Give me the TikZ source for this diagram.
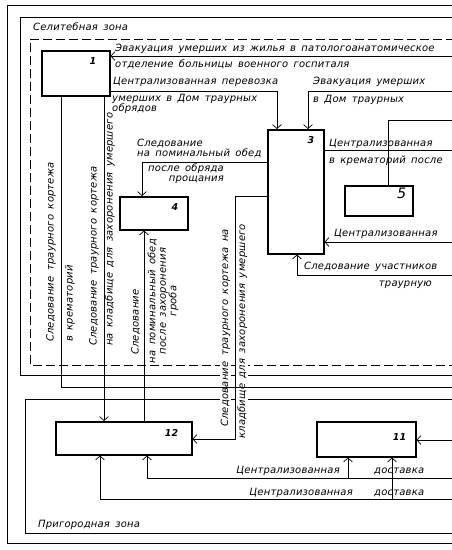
\documentclass[tikz,border=0pt]{standalone}
\usepackage{fontspec}
\newfontfamily\gostfont{DejaVu Sans}[LetterSpace=2, WordSpace=1.6]
\usepackage{tikz}
\usetikzlibrary{arrows.meta, positioning, calc}

\begin{document}
\begin{tikzpicture}[
    x=1pt, y=-1pt,
    every node/.style={font=\gostfont\itshape\fontsize{10}{10.5}\selectfont, inner sep=1pt},
    blocknode/.style={draw, line width=1.5pt, anchor=north west, inner sep=0pt},
    numlabel/.style={anchor=north east, inner xsep=10pt, inner ysep=7pt, font=\gostfont\itshape\bfseries\fontsize{9.5}{10.5}\selectfont},
    zoneline/.style={line width=0.8pt},
    conn/.style={line width=0.7pt},
    flow/.style={conn, -{Straight Barb[length=4pt, width=9pt]}},
    vtext/.style={rotate=90, anchor=base west},
    vblock/.style={rotate=90, anchor=north, inner sep=0pt, align=center}
]
    \useasboundingbox (0,0) rectangle (451,550);

    \draw[zoneline] (455,5) -- (7,5) -- (7,543) -- (455,543);
    \draw[zoneline] (455,17) -- (20,17) -- (20,375) -- (455,375);
    \draw[zoneline, dash pattern=on 9pt off 4pt] (455,39) -- (30,39) -- (30,365) -- (455,365);
    \draw[zoneline] (455,399) -- (25,399) -- (25,533) -- (455,533);
    \node[anchor=base west] (zoneS) at (32,30) {Селитебная зона};
    \node[anchor=base west] (zoneP) at (37,527) {Пригородная зона};

    \node[blocknode, minimum width=68pt, minimum height=45pt, label={[numlabel, inner xsep=14pt]north east:1}] (b1) at (41,50) {};
    \node[blocknode, minimum width=56pt, minimum height=124pt, label={[numlabel]north east:3}] (b3) at (267,129) {};
    \node[blocknode, minimum width=68pt, minimum height=33pt, label={[numlabel]north east:4}] (b4) at (119,196) {};
    \node[blocknode, minimum width=68pt, minimum height=30pt, label={[numlabel, inner xsep=7pt, inner ysep=3pt, font=\gostfont\itshape\Large]north east:5}] (b5) at (344,185) {};
    \node[blocknode, minimum width=136pt, minimum height=33pt, label={[numlabel, inner xsep=14pt, inner ysep=8pt]north east:12}] (b12) at (55,421) {};
    \node[blocknode, minimum width=99pt, minimum height=35pt, label={[numlabel, inner ysep=12pt]north east:11}] (b11) at (316,421) {};

    \coordinate (e1) at (455,56);
    \draw[flow] (e1) -- (e1 -| b1.east);
    \node[anchor=base west] (evacA) at (114,51) {Эвакуация умерших из жилья в патологоанатомическое};
    \node[anchor=base west] (evacB) at (114,67) {отделение больницы военного госпиталя};

    \coordinate (t1) at (277,91);
    \draw[flow] (t1 -| b1.east) -- (t1) -- (t1 |- b3.north);
    \node[anchor=base west] (perevA) at (112,84) {Централизованная перевозка};
    \node[anchor=north west, inner sep=0pt, align=left] (perevB) at (112,94) {умерших в Дом траурных\\обрядов};

    \coordinate (e2) at (455,91);
    \coordinate (t2) at (308,91);
    \draw[flow] (e2) -- (t2) -- (t2 |- b3.north);
    \node[anchor=base west] (evac2A) at (312,84) {Эвакуация умерших};
    \node[anchor=base west] (evac2B) at (312,102) {в Дом траурных};

    \coordinate (e3) at (455,150);
    \draw[conn] (e3 -| b3.east) -- (e3);
    \node[anchor=base west] (cremA) at (328,146) {Централизованная};
    \node[anchor=base west] (cremB) at (328,163) {в крематорий после};

    \coordinate (e4) at (455,120);
    \coordinate (t5) at (388,120);
    \draw[conn] (t5 |- b5.north) -- (t5) -- (e4);

    \coordinate (e5) at (455,242);
    \draw[flow] (e5) -- (e5 -| b3.east);
    \node[anchor=base west] (central5) at (333,236) {Централизованная};

    \coordinate (e6) at (455,275);
    \coordinate (t6) at (297,275);
    \draw[flow] (e6) -- (t6) -- (t6 |- b3.south);
    \node[anchor=base west] (partA) at (303,269) {Следование участников};
    \node[anchor=base east] (partB) at (433,286) {траурную};

    \coordinate (t7) at (142,162);
    \draw[flow] (t7 -| b3.west) -- (t7) -- (t7 |- b4.north);
    \node[anchor=south west, inner sep=0pt, align=left] (pominA) at (137,158.5) {Следование\\на поминальный обед};
    \node[anchor=north east, inner sep=0pt, align=right] (pominB) at (224,163.5) {после обряда\\прощания};

    \coordinate (t8) at (235,196);
    \coordinate (t9) at (235,439);
    \node[vtext, fill=white] (cortegeA) at (228,428) {Следование траурного кортежа на};
    \node[vtext, fill=white] (cortegeB) at (245,440) {кладбище для захоронения умершего};
    \draw[flow] (t8 -| b3.west) -- (t8) -- (t9) -- (t9 -| b12.east);

    \coordinate (t10) at (61,387);
    \coordinate (e7) at (455,387);
    \draw[conn] (t10 |- b1.south) -- (t10) -- (e7);
    \node[vtext] (cremL) at (53.5,343) {Следование траурного кортежа};
    \node[vtext] (cremR) at (72.5,343) {в крематорий};

    \coordinate (x11) at (104,0);
    \draw[flow] (x11 |- b1.south) -- (x11 |- b12.north);
    \node[vtext] (cemL) at (96.5,347) {Следование траурного кортежа};
    \node[vtext] (cemR) at (112.5,347) {на кладбище для захоронения умершего};

    \coordinate (x12) at (144,0);
    \draw[flow] (x12 |- b12.north) -- (x12 |- b4.south);
    \node[vtext] (dinnerL) at (138.5,356) {Следование};
    \node[vblock] (dinnerR) at (147.5,301) {на поминальный обед\\после захоронения\\гроба};

    \coordinate (e8) at (455,478);
    \coordinate (t12) at (147,478);
    \coordinate (t13) at (348,478);
    \draw[flow] (e8) -- (t12) -- (t12 |- b12.south);
    \draw[flow] (t13) -- (t13 |- b11.south);
    \node[anchor=base east] (delivA) at (341,473) {Централизованная};
    \node[anchor=base west] (delivB) at (373,473) {доставка};

    \coordinate (e9) at (455,499);
    \coordinate (t14) at (100,499);
    \coordinate (t15) at (392,499);
    \draw[flow] (e9) -- (t14) -- (t14 |- b12.south);
    \draw[flow] (t15) -- (t15 |- b11.south);
    \node[anchor=base east] (delivC) at (354,495) {Централизованная};
    \node[anchor=base west] (delivD) at (373,495) {доставка};

    \coordinate (e10) at (455,440);
    \draw[flow] (e10) -- (e10 -| b11.east);
\end{tikzpicture}
\end{document}
